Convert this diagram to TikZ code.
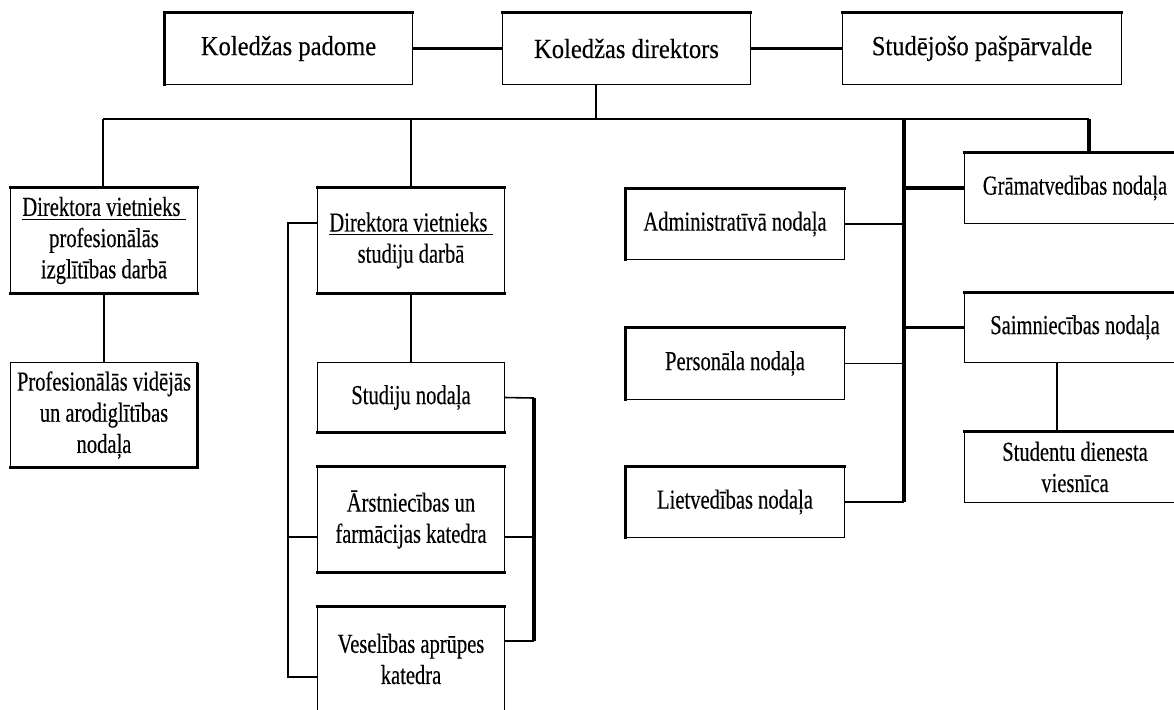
\documentclass[tikz,border=0pt]{standalone}
\usepackage{fontspec}
\setmainfont{Liberation Serif}[FakeStretch=0.75, FakeBold=0.3]
\newfontfamily\topfont{Liberation Serif}[FakeStretch=0.89, FakeBold=0.3]
\begin{document}
\begin{tikzpicture}[x=0.5pt,y=-0.5pt,
  thn/.style={line width=0.8pt},
  thk/.style={line width=1.6pt, line cap=rect},
  bx/.style={inner sep=0pt, align=center, font=\fontsize{13.7}{15.6}\selectfont},
  topbx/.style={inner sep=0pt, align=center, font=\topfont\fontsize{13.8}{15}\selectfont}]
\useasboundingbox (0,0) rectangle (1174,709);
\clip (0,0) rectangle (1174,709);
% top row
\node[topbx, minimum width=123.5pt, minimum height=35.5pt] (pad) at (288.5,48.5) {Koledžas padome};
\node[topbx, minimum width=123.5pt, minimum height=35.5pt] (dir) at (626.5,48.5) {Koledžas direktors};
\node[topbx, minimum width=139pt, minimum height=35.5pt] (pas) at (982,48.5) {Studējošo pašpārvalde};
% left column
\node[bx, minimum width=93pt, minimum height=52.5pt] (A) at (104,240.5) {\underline{Direktora vietnieks\ }\\profesionālās\\izglītības darbā};
\node[bx, minimum width=93pt, minimum height=52pt] (B) at (104,415) {Profesionālās vidējās\\un arodiglītības\\nodaļa};
% second column
\node[bx, minimum width=93pt, minimum height=52.5pt] (C) at (411,240.5) {\underline{Direktora vietnieks\ }\\studiju darbā};
\node[bx, minimum width=93pt, minimum height=34.5pt] (D) at (411,397.5) {Studiju nodaļa};
\node[bx, minimum width=93pt, minimum height=52.5pt] (E) at (411,519.5) {Ārstniecības un\\farmācijas katedra};
\node[bx, minimum width=93pt, minimum height=52pt] (F) at (411,659) {Veselības aprūpes\\katedra};
% third column
\node[bx, minimum width=109pt, minimum height=35pt] (Ad) at (735,224) {Administratīvā nodaļa};
\node[bx, minimum width=109pt, minimum height=35.5pt] (Pe) at (735,363.5) {Personāla nodaļa};
\node[bx, minimum width=109pt, minimum height=35pt] (Li) at (735,502) {Lietvedības nodaļa};
% right column
\node[bx, minimum width=110pt, minimum height=35pt] (G) at (1075,188) {Grāmatvedības nodaļa};
\node[bx, minimum width=110pt, minimum height=34.5pt] (S) at (1075,327.5) {Saimniecības nodaļa};
\node[bx, minimum width=110pt, minimum height=35pt] (St) at (1075,467) {Studentu dienesta\\viesnīca};
% thin outlines
\foreach \n in {pad,dir,pas,A,B,C,D,E,F,Ad,Pe,Li,G,S,St}
  \draw[thn] (\n.north west) rectangle (\n.south east);
% thick top sides
\foreach \n in {pad,dir,pas,A,C,E,F,Ad,Pe,Li,G,S,St}
  \draw[thk] (\n.north west) -- (\n.north east);
% thick bottom sides
\foreach \n in {A,B,C,D,E}
  \draw[thk] (\n.south west) -- (\n.south east);
% thick left sides
\foreach \n in {pad,Ad,Pe,Li}
  \draw[thk] (\n.north west) -- (\n.south west);
\draw[line width=1.2pt] (B.north east) -- (B.south east);
% junction coordinates
\coordinate (busL) at (103,119);
\coordinate (busR) at (1089,119);
\coordinate (dj) at (596,119);
\coordinate (bC) at (411,119);
\coordinate (rv) at (904,119);
\coordinate (rvb) at (904,502);
\coordinate (sv) at (1057,362);
\coordinate (lbt) at (288,223);
\coordinate (lbm) at (288,537);
\coordinate (lbb) at (288,677);
\coordinate (rbt) at (534,398);
\coordinate (rbm) at (534,537);
\coordinate (rbb) at (534,641);
% connectors top
\draw[thk, line cap=butt] (pad.east) -- (dir.west);
\draw[thk, line cap=butt] (dir.east) -- (pas.west);
\draw[thn] (dj |- dir.south) -- (dj);
\draw[thn] (busL) -- (busR);
\draw[thn] (busL) -- (busL |- A.north);
\draw[thn] (A.south) -- (B.north);
\draw[thn] (bC) -- (C.north);
\draw[thn] (C.south) -- (D.north);
% right trunk
\draw[thk, line cap=butt] (busR) -- (busR |- G.north);
\draw[thk, line cap=butt] (rv) -- (rvb);
\draw[thk, line cap=butt] (rv |- G.west) -- (G.west);
\draw[thk, line cap=butt] (rv |- S.west) -- (S.west);
\draw[thn] (Ad.east) -- (rv |- Ad.east);
\draw[thn] (Pe.east) -- (rv |- Pe.east);
\draw[thn] (Li.east) -- (rvb);
\draw[thn] (sv) -- (sv |- St.north);
% left bracket
\draw[thn] (lbt -| C.west) -- (lbt) -- (lbb) -- (lbb -| F.west);
\draw[thn] (lbm) -- (lbm -| E.west);
% right bracket
\draw[thn] (D.east) -- (rbt);
\draw[thk, line cap=butt] (rbt) -- (rbb);
\draw[thn] (rbm -| E.east) -- (rbm);
\draw[thn] (rbb -| F.east) -- (rbb);
\end{tikzpicture}
\end{document}
